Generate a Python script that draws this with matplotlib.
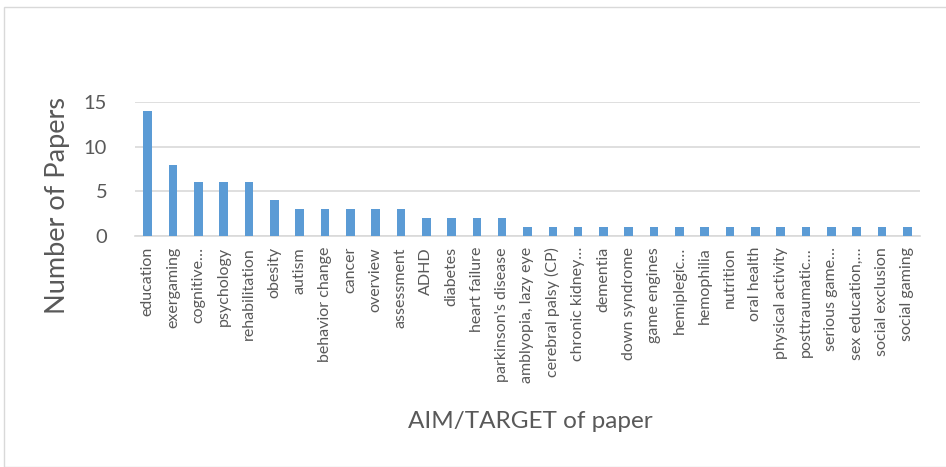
import matplotlib
matplotlib.use("Agg")
import matplotlib.pyplot as plt
from matplotlib.patches import Rectangle

categories = [
    "education", "exergaming", "cognitive…", "psychology", "rehabilitation",
    "obesity", "autism", "behavior change", "cancer", "overview",
    "assessment", "ADHD", "diabetes", "heart failure", "parkinson's disease",
    "amblyopia, lazy eye", "cerebral palsy (CP)", "chronic kidney…", "dementia",
    "down syndrome", "game engines", "hemiplegic…", "hemophilia", "nutrition",
    "oral health", "physical activity", "posttraumatic…", "serious game…",
    "sex education,…", "social exclusion", "social gaming",
]
papers = [14, 8, 6, 6, 6, 4, 3, 3, 3, 3, 3, 2, 2, 2, 2,
          1, 1, 1, 1, 1, 1, 1, 1, 1, 1, 1, 1, 1, 1, 1, 1]
yticks = [0, 5, 10, 15]

BAR = "#5B9BD5"
TEXT = "#595959"
GRID = "#D9D9D9"

plt.rcParams["font.family"] = ["Lato", "DejaVu Sans"]

fig = plt.figure(figsize=(9.46, 4.67), dpi=100)
# thin frame round the chart area
fig.patches.append(Rectangle((4 / 946, 0), 1, 1 - 7 / 467, transform=fig.transFigure,
                             fill=False, edgecolor="#D9D9D9", linewidth=1))

ax = fig.add_axes([135 / 946, 1 - 236 / 467, (920 - 135) / 946, (236 - 102) / 467])
x = range(len(categories))
ax.bar(x, papers, width=0.34, color=BAR, zorder=3)
ax.set_xlim(-0.5, len(categories) - 0.5)
ax.set_ylim(0, 15)
ax.set_yticks(yticks)
ax.set_yticklabels([str(v) for v in yticks], fontsize=14.5, color=TEXT)
ax.set_xticks(list(x))
ax.set_xticklabels(categories, rotation=90, fontsize=11.5, color=TEXT, va="top")
ax.tick_params(axis="y", length=0, pad=20)
ax.tick_params(axis="x", length=0, pad=8)
ax.grid(axis="y", color=GRID, linewidth=1.2, zorder=0)
for s in ["top", "right", "left"]:
    ax.spines[s].set_visible(False)
ax.spines["bottom"].set_color(GRID)
ax.spines["bottom"].set_linewidth(1.2)

fig.text(58 / 946, 1 - 206 / 467, "Number of Papers", rotation=90, ha="center",
         va="center", fontsize=19.5, color=TEXT)
fig.text(530 / 946, 1 - 421 / 467, "AIM/TARGET of paper", ha="center",
         va="center", fontsize=17.5, color=TEXT)

fig.savefig("out.png", dpi=100)
